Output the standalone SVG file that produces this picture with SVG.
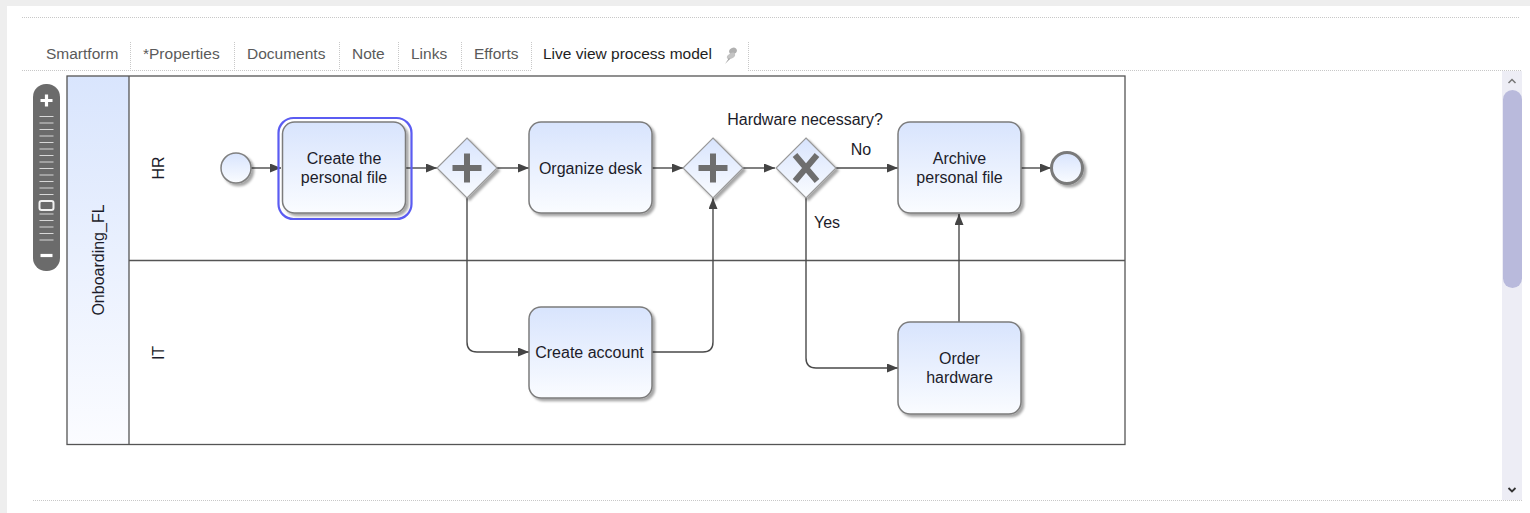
<svg xmlns="http://www.w3.org/2000/svg" width="1530" height="513" viewBox="0 0 1530 513">
  <style>
    .tab { font-family: "Liberation Sans", Arial, sans-serif; font-size: 15.5px; fill: #5a5a5a; }
    .tab-active { fill: #1e1e1e; }
    .dots { stroke: #c8c8c8; stroke-width: 1; stroke-dasharray: 1 1; fill: none; }
    .label { font-family: "Liberation Sans", Arial, sans-serif; font-size: 16px; fill: #1c1c2a; text-anchor: middle; }
    .task { fill: url(#taskFill); stroke: #7c7c7c; stroke-width: 1.5; filter: url(#shadow); }
    .gw { fill: url(#taskFill); stroke: #9a9a9a; stroke-width: 1.2; filter: url(#shadow); }
    .gw-mark { stroke: #6e6e6e; stroke-width: 6; fill: none; }
    .flow { fill: none; stroke: #4a4a4a; stroke-width: 1.4; marker-end: url(#arrow); }
    .lane { fill: none; stroke: #555; stroke-width: 1.3; }
    .tick { stroke: #d8d8d8; stroke-width: 1; }
  </style>
  <defs>
    <linearGradient id="taskFill" x1="0" y1="0" x2="0" y2="1">
      <stop offset="0" stop-color="#d8e4fd"/>
      <stop offset="1" stop-color="#fafcff"/>
    </linearGradient>
    <linearGradient id="poolFill" x1="0" y1="0" x2="0" y2="1">
      <stop offset="0" stop-color="#d9e5fd"/>
      <stop offset="1" stop-color="#fbfcff"/>
    </linearGradient>
    <filter id="shadow" x="-20%" y="-20%" width="140%" height="140%">
      <feDropShadow dx="2.5" dy="2.5" stdDeviation="1.2" flood-color="#000" flood-opacity="0.35"/>
    </filter>
    <marker id="arrow" viewBox="0 0 11 9" markerWidth="11" markerHeight="9" refX="11" refY="4.5" orient="auto" markerUnits="userSpaceOnUse">
      <path d="M0,0 L11,4.5 L0,9 z" fill="#444"/>
    </marker>
  </defs>

  <!-- page frame -->
  <rect x="0" y="0" width="1530" height="513" fill="#eeeeee"/>
  <rect x="7" y="6" width="1523" height="507" fill="#ffffff"/>

  <!-- tab strip -->
  <g id="tabs">
    <line class="dots" x1="22" y1="17.5" x2="1520" y2="17.5"/>
    <text class="tab" x="46" y="59">Smartform</text>
    <text class="tab" x="143" y="59">*Properties</text>
    <text class="tab" x="247" y="59">Documents</text>
    <text class="tab" x="352" y="59">Note</text>
    <text class="tab" x="411" y="59">Links</text>
    <text class="tab" x="474" y="59">Efforts</text>
    <text class="tab tab-active" x="543" y="59">Live view process model</text>
    <g id="pin-icon" fill="#b0b0b0">
      <ellipse cx="733" cy="51" rx="4" ry="3.2" transform="rotate(-30 733 51)"/>
      <ellipse cx="731" cy="56" rx="4.5" ry="2.6" transform="rotate(-30 731 56)" fill="#c4c4c4"/>
      <path d="M729,58 L725,64 L730,59 z" fill="#a0a0a0"/>
    </g>
    <line class="dots" x1="130.5" y1="42" x2="130.5" y2="70"/>
    <line class="dots" x1="234.5" y1="42" x2="234.5" y2="70"/>
    <line class="dots" x1="339.5" y1="42" x2="339.5" y2="70"/>
    <line class="dots" x1="398.5" y1="42" x2="398.5" y2="70"/>
    <line class="dots" x1="461.5" y1="42" x2="461.5" y2="70"/>
    <line class="dots" x1="531.5" y1="42" x2="531.5" y2="70"/>
    <line class="dots" x1="748.5" y1="42" x2="748.5" y2="70"/>
    <line class="dots" x1="22" y1="70.5" x2="531" y2="70.5"/>
    <line class="dots" x1="748" y1="70.5" x2="1522" y2="70.5"/>
    <line class="dots" x1="33" y1="500.5" x2="1522" y2="500.5"/>
  </g>

  <!-- scrollbar -->
  <g id="scrollbar">
    <rect x="1502" y="71" width="20" height="429" fill="#ededf5"/>
    <rect x="1503" y="90" width="19" height="198" rx="9.5" fill="#b9badc"/>
    <path d="M1508.5,83 L1512,79.5 L1515.5,83" fill="none" stroke="#777" stroke-width="1.5"/>
    <path d="M1508.5,488 L1512,491.5 L1515.5,488" fill="none" stroke="#333" stroke-width="1.8"/>
  </g>

  <!-- zoom control -->
  <g id="zoom-control">
    <rect x="33" y="84" width="27" height="187" rx="13" fill="#6b6b6b"/>
    <path d="M40.5,100.5 H52.5 M46.5,94.5 V106.5" stroke="#fff" stroke-width="3.2"/>
    <g class="tick">
      <line x1="39.5" y1="116.5" x2="53.5" y2="116.5"/>
      <line x1="39.5" y1="123" x2="53.5" y2="123"/>
      <line x1="39.5" y1="129.5" x2="53.5" y2="129.5"/>
      <line x1="39.5" y1="136" x2="53.5" y2="136"/>
      <line x1="39.5" y1="142.5" x2="53.5" y2="142.5"/>
      <line x1="39.5" y1="149" x2="53.5" y2="149"/>
      <line x1="39.5" y1="155.5" x2="53.5" y2="155.5"/>
      <line x1="39.5" y1="162" x2="53.5" y2="162"/>
      <line x1="39.5" y1="168.5" x2="53.5" y2="168.5"/>
      <line x1="39.5" y1="175" x2="53.5" y2="175"/>
      <line x1="39.5" y1="181.5" x2="53.5" y2="181.5"/>
      <line x1="39.5" y1="188" x2="53.5" y2="188"/>
      <line x1="39.5" y1="194.5" x2="53.5" y2="194.5"/>
      <line x1="39.5" y1="214" x2="53.5" y2="214"/>
      <line x1="39.5" y1="220.5" x2="53.5" y2="220.5"/>
      <line x1="39.5" y1="227" x2="53.5" y2="227"/>
      <line x1="39.5" y1="233.5" x2="53.5" y2="233.5"/>
      <line x1="39.5" y1="240" x2="53.5" y2="240"/>
    </g>
    <rect x="39.5" y="201" width="14" height="9" rx="2" fill="#6b6b6b" stroke="#f2f2f2" stroke-width="2"/>
    <path d="M40.5,255.5 H52.5" stroke="#fff" stroke-width="3.2"/>
  </g>

  <!-- pool and lanes -->
  <g id="pool">
    <rect x="67" y="76" width="62" height="368.5" fill="url(#poolFill)"/>
    <rect class="lane" x="67" y="76" width="1058" height="368.5"/>
    <line class="lane" x1="129" y1="76" x2="129" y2="444.5"/>
    <line class="lane" x1="129" y1="260.5" x2="1125" y2="260.5"/>
    <text class="label" transform="translate(103.5 260) rotate(-90)">Onboarding_FL</text>
  </g>
  <g id="lane-hr">
    <text class="label" transform="translate(164 168) rotate(-90)">HR</text>
  </g>
  <g id="lane-it">
    <text class="label" transform="translate(164 353) rotate(-90)">IT</text>
  </g>

  <!-- sequence flows -->
  <g id="connectors">
    <path class="flow" d="M251,168 H281"/>
    <path class="flow" d="M406,168 H437"/>
    <path class="flow" d="M497,168 H529"/>
    <path class="flow" d="M652,168 H683"/>
    <path class="flow" d="M743,168 H775"/>
    <path class="flow" d="M836,168 H898"/>
    <path class="flow" d="M1021,168 H1051"/>
    <path class="flow" d="M467,198 V342 Q467,352 477,352 H529"/>
    <path class="flow" d="M652,352 H703 Q713,352 713,342 V198"/>
    <path class="flow" d="M806,198 V358 Q806,368 816,368 H898"/>
    <path class="flow" d="M959,322 V214"/>
    <text class="label" x="805" y="125">Hardware necessary?</text>
    <text class="label" x="861" y="155">No</text>
    <text class="label" x="827" y="228">Yes</text>
  </g>

  <!-- flow nodes -->
  <g id="start-event">
    <circle cx="236" cy="168" r="15" fill="url(#taskFill)" stroke="#808080" stroke-width="1.5" filter="url(#shadow)"/>
  </g>

  <g id="task-create-personal-file">
    <rect x="278.5" y="118" width="133" height="101" rx="15" fill="none" stroke="#5b5cf2" stroke-width="2.2"/>
    <rect class="task" x="282.5" y="122" width="123" height="91" rx="12"/>
    <text class="label" x="344" y="164">Create the</text>
    <text class="label" x="344" y="183">personal file</text>
  </g>

  <g id="gateway-split">
    <path class="gw" d="M467,138 L497,168 L467,198 L437,168 z"/>
    <path class="gw-mark" d="M452.5,168 H481.5 M467,153.5 V182.5"/>
  </g>

  <g id="task-organize-desk">
    <rect class="task" x="529" y="122" width="123" height="91" rx="12"/>
    <text class="label" x="590.5" y="174">Organize desk</text>
  </g>

  <g id="gateway-join">
    <path class="gw" d="M713,138 L743,168 L713,198 L683,168 z"/>
    <path class="gw-mark" d="M698.5,168 H727.5 M713,153.5 V182.5"/>
  </g>

  <g id="gateway-hardware">
    <path class="gw" d="M806,138 L836,168 L806,198 L776,168 z"/>
    <path class="gw-mark" d="M795,155 L817,181 M817,155 L795,181" stroke-width="7"/>
  </g>

  <g id="task-archive-personal-file">
    <rect class="task" x="898" y="122" width="123" height="91" rx="12"/>
    <text class="label" x="959.5" y="164">Archive</text>
    <text class="label" x="959.5" y="183">personal file</text>
  </g>

  <g id="end-event">
    <circle cx="1067" cy="168" r="15.5" fill="url(#taskFill)" stroke="#7a7a7a" stroke-width="3" filter="url(#shadow)"/>
  </g>

  <g id="task-create-account">
    <rect class="task" x="529" y="307" width="123" height="91" rx="12"/>
    <text class="label" x="589.5" y="357.5">Create account</text>
  </g>

  <g id="task-order-hardware">
    <rect class="task" x="898" y="322" width="123" height="92" rx="12"/>
    <text class="label" x="959.5" y="363.5">Order</text>
    <text class="label" x="959.5" y="382.5">hardware</text>
  </g>
</svg>
